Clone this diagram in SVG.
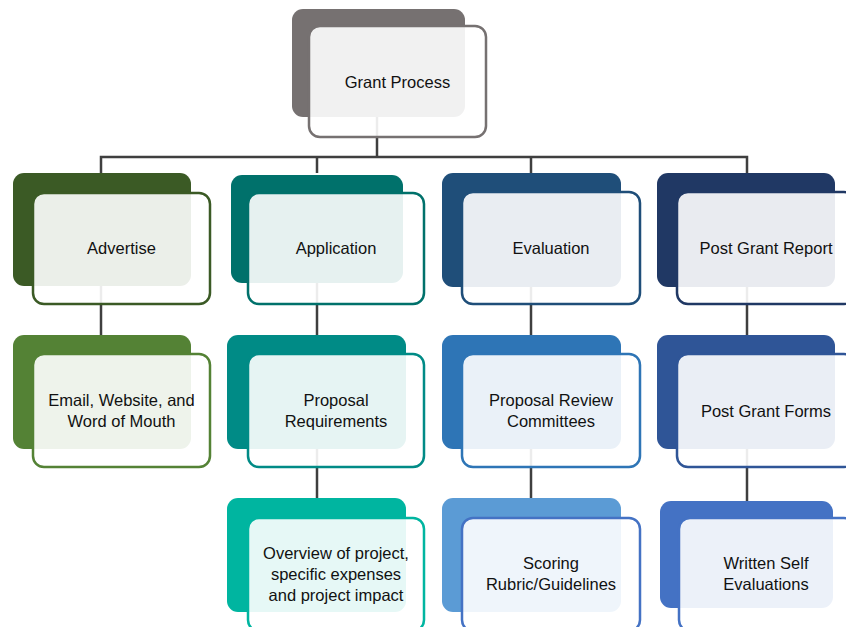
<svg xmlns="http://www.w3.org/2000/svg" width="846" height="627" viewBox="0 0 846 627">
  <style>
    .conn { stroke: #3f3f3f; stroke-width: 2.5; fill: none; }
    .front { fill: #ffffff; fill-opacity: 0.9; stroke-width: 2.5; }
    .label { font-family: "Liberation Sans", Arial, sans-serif; font-size: 16.5px; fill: #111111; text-anchor: middle; }
  </style>
  <rect width="846" height="627" fill="#ffffff"/>

  <!-- connectors (drawn under the nodes) -->
  <g id="connectors" class="conn">
    <path d="M377,100 V157"/>
    <path d="M101,173 V157 H747 V173"/>
    <path d="M317,157 V173"/>
    <path d="M531,157 V173"/>
    <path d="M101,270 V335"/>
    <path d="M317,270 V335"/>
    <path d="M531,270 V335"/>
    <path d="M747,270 V335"/>
    <path d="M317,430 V498"/>
    <path d="M531,430 V498"/>
    <path d="M747,430 V501"/>
  </g>

  <!-- root -->
  <g id="grant-process">
    <rect x="292" y="9" width="173" height="108" rx="11" fill="#767171"/>
    <rect class="front" x="309" y="26" width="177" height="111" rx="11" stroke="#767171"/>
    <text class="label" x="397.5" y="88">Grant Process</text>
  </g>

  <!-- level 1 -->
  <g id="advertise">
    <rect x="13" y="173" width="178" height="113" rx="11" fill="#3b5a25"/>
    <rect class="front" x="33" y="193" width="177" height="111" rx="11" stroke="#3b5a25"/>
    <text class="label" x="121.5" y="254">Advertise</text>
  </g>
  <g id="application">
    <rect x="231" y="175" width="172" height="108" rx="11" fill="#00716b"/>
    <rect class="front" x="248" y="193" width="176" height="111" rx="11" stroke="#00716b"/>
    <text class="label" x="336" y="254">Application</text>
  </g>
  <g id="evaluation">
    <rect x="442" y="173" width="179" height="114" rx="11" fill="#1f4e79"/>
    <rect class="front" x="462" y="192" width="178" height="112" rx="11" stroke="#1f4e79"/>
    <text class="label" x="551" y="254">Evaluation</text>
  </g>
  <g id="post-grant-report">
    <rect x="657" y="173" width="178" height="114" rx="11" fill="#203864"/>
    <rect class="front" x="677" y="192" width="178" height="112" rx="11" stroke="#203864"/>
    <text class="label" x="766" y="254">Post Grant Report</text>
  </g>

  <!-- level 2 -->
  <g id="email-website">
    <rect x="13" y="335" width="178" height="114" rx="11" fill="#548235"/>
    <rect class="front" x="33" y="354" width="177" height="113" rx="11" stroke="#548235"/>
    <text class="label" x="121.5" y="406">Email, Website, and</text>
    <text class="label" x="121.5" y="427">Word of Mouth</text>
  </g>
  <g id="proposal-requirements">
    <rect x="227" y="335" width="179" height="114" rx="11" fill="#008b86"/>
    <rect class="front" x="248" y="354" width="176" height="113" rx="11" stroke="#008b86"/>
    <text class="label" x="336" y="406">Proposal</text>
    <text class="label" x="336" y="427">Requirements</text>
  </g>
  <g id="proposal-review">
    <rect x="442" y="335" width="179" height="114" rx="11" fill="#2e75b6"/>
    <rect class="front" x="462" y="354" width="178" height="113" rx="11" stroke="#2e75b6"/>
    <text class="label" x="551" y="406">Proposal Review</text>
    <text class="label" x="551" y="427">Committees</text>
  </g>
  <g id="post-grant-forms">
    <rect x="657" y="335" width="178" height="114" rx="11" fill="#2f5597"/>
    <rect class="front" x="677" y="354" width="178" height="113" rx="11" stroke="#2f5597"/>
    <text class="label" x="766" y="417">Post Grant Forms</text>
  </g>

  <!-- level 3 -->
  <g id="overview">
    <rect x="227" y="498" width="179" height="114" rx="11" fill="#00b5a0"/>
    <rect class="front" x="248" y="518" width="176" height="113" rx="11" stroke="#00b5a0"/>
    <text class="label" x="336" y="559">Overview of project,</text>
    <text class="label" x="336" y="580">specific expenses</text>
    <text class="label" x="336" y="601">and project impact</text>
  </g>
  <g id="scoring">
    <rect x="442" y="498" width="179" height="114" rx="11" fill="#5b9bd5"/>
    <rect class="front" x="462" y="518" width="178" height="113" rx="11" stroke="#4472c4"/>
    <text class="label" x="551" y="569">Scoring</text>
    <text class="label" x="551" y="590">Rubric/Guidelines</text>
  </g>
  <g id="written-self">
    <rect x="660" y="501" width="173" height="107" rx="11" fill="#4472c4"/>
    <rect class="front" x="679" y="518" width="176" height="113" rx="11" stroke="#4472c4"/>
    <text class="label" x="766" y="569">Written Self</text>
    <text class="label" x="766" y="590">Evaluations</text>
  </g>
</svg>
